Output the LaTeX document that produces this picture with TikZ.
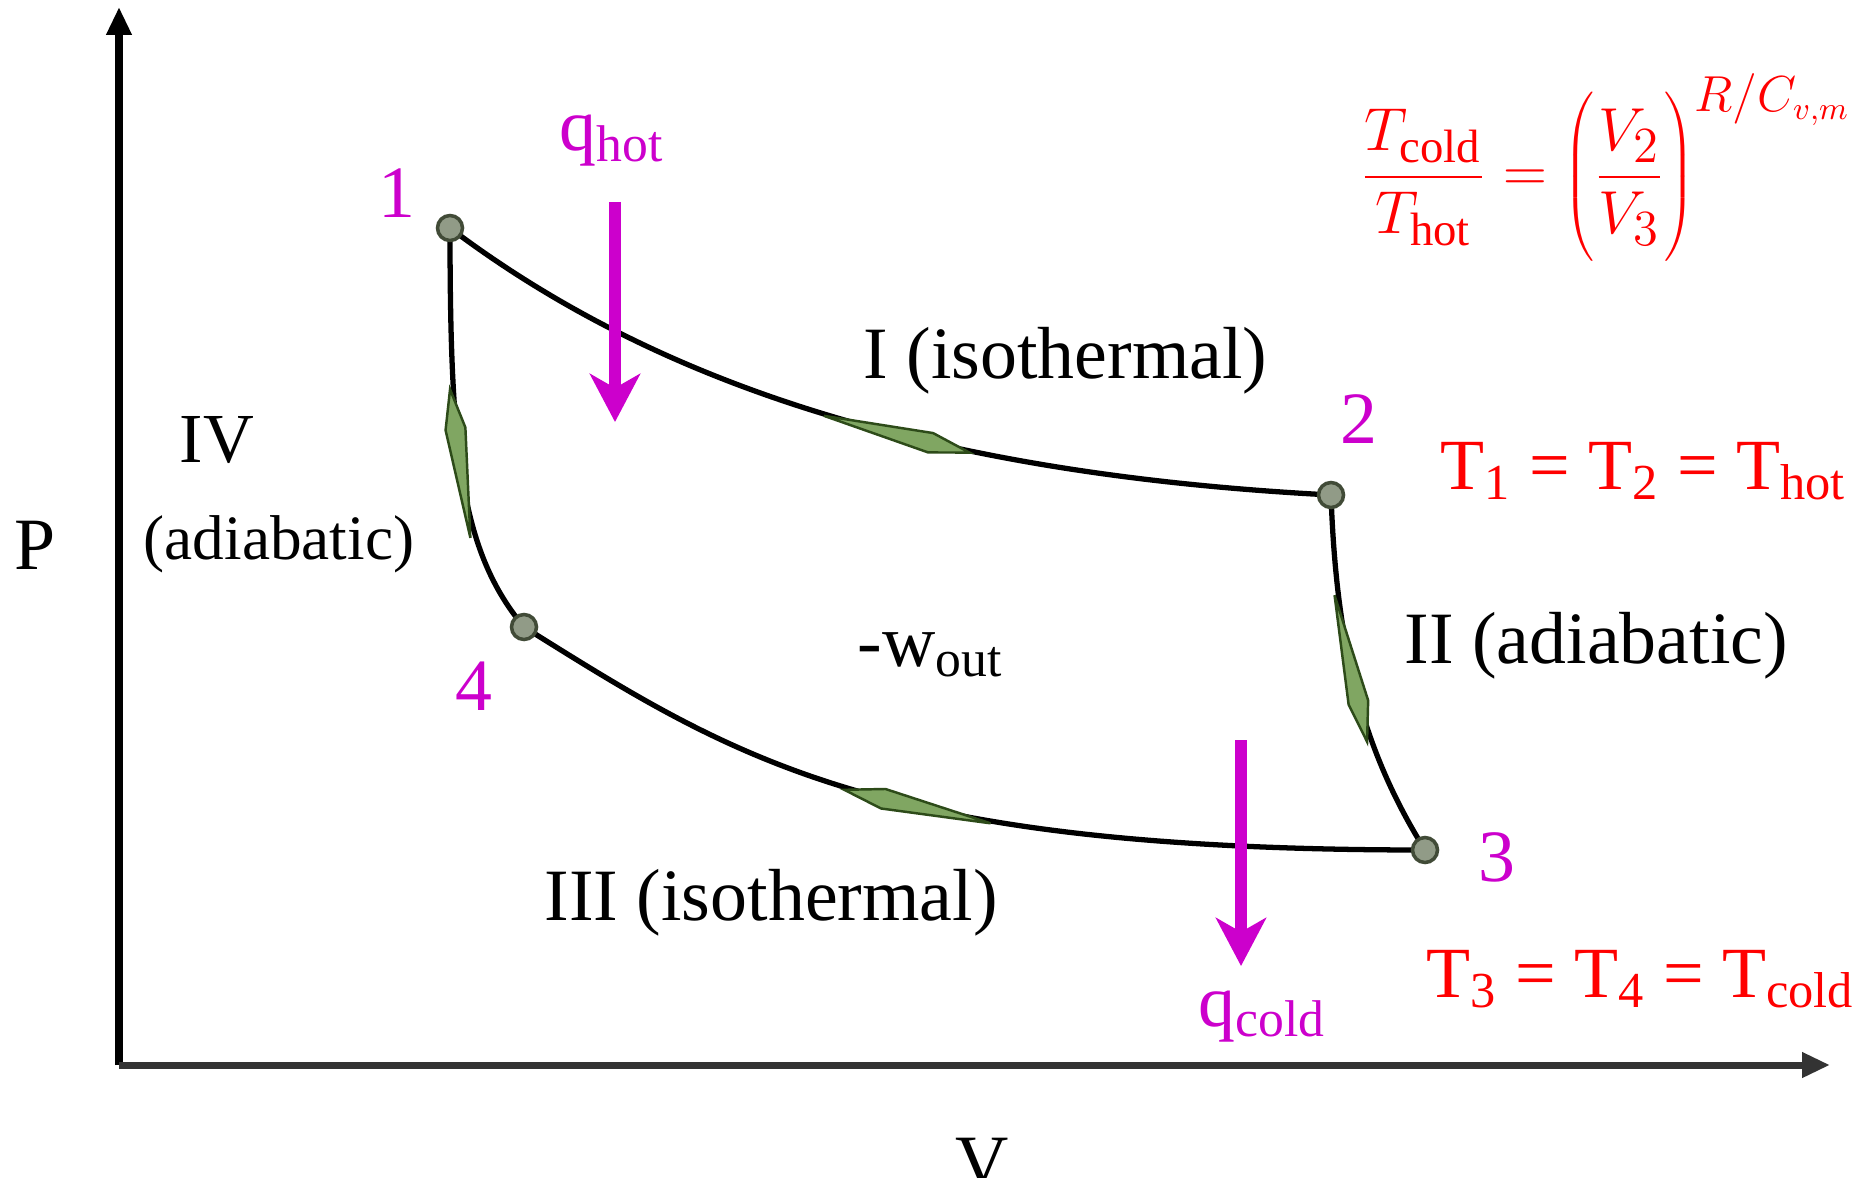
\documentclass[tikz,border=0pt]{standalone}
\usepackage{fontspec}
\setmainfont{Liberation Serif}
\usepackage{tikz}
\usetikzlibrary{arrows.meta, decorations.markings}
\definecolor{heatmag}{RGB}{204, 0, 204}
\definecolor{leafgreen}{RGB}{128, 166, 98}
\definecolor{leafdark}{RGB}{45, 75, 25}
\definecolor{dotfill}{RGB}{145, 155, 135}
\definecolor{dotdark}{RGB}{65, 75, 55}

\begin{document}
\begin{tikzpicture}[
  lbl/.style={font=\fontsize{21}{25}\selectfont, inner sep=0pt, anchor=base west},
  ptnum/.style={lbl, anchor=base, text=heatmag},
  redlbl/.style={lbl, text=red, font=\fontsize{20.5}{24}\selectfont},
  axisline/.style={line width=2pt, -{Triangle[length=0.28cm, width=0.24cm]}},
  cycleline/.style={line width=1.5pt},
  statedot/.style={circle, draw=dotdark, fill=dotfill, line width=1pt, minimum size=0.25cm, inner sep=0pt},
  heatarrow/.style={heatmag, line width=3.4pt, -{Stealth[length=0.48cm, width=0.5cm, inset=0.14cm]}},
  flowmark/.style={postaction={decorate, decoration={markings,
    mark=at position #1 with {\filldraw[draw=leafdark, fill=leafgreen, line width=0.7pt]
      (-0.75,0) -- (0.35,0.1) -- (0.75,0) -- (0.35,-0.1) -- cycle;}}}}
]
\useasboundingbox (0,0) rectangle (18.66,11.77);

% Axes
\coordinate (origin) at (1.19,1.12);
\coordinate (ytip) at (1.19,11.70);
\coordinate (xtip) at (18.30,1.12);
\draw[axisline] (origin) -- (ytip);
\draw[axisline, black!80] (origin) -- (xtip);
\node[lbl] (plbl) at (0.14,6.08) {P};
\node[lbl] (vlbl) at (9.55,-0.09) {V};

% State points of the cycle
\coordinate (c1) at (4.50,9.49);
\coordinate (c2) at (13.31,6.82);
\coordinate (c3) at (14.25,3.27);
\coordinate (c4) at (5.24,5.50);

% The four strokes
\draw[cycleline, flowmark=0.53] (c1) .. controls +(-37:2.6) and +(177:4) .. (c2);
\draw[cycleline, flowmark=0.47] (c2) .. controls +(-88:1.5) and +(122:1.2) .. (c3);
\draw[cycleline, flowmark=0.54] (c3) .. controls +(180:5.5) and +(-32:2.5) .. (c4);
\draw[cycleline, flowmark=0.43] (c4) .. controls +(130:1.0) and +(-90:2.2) .. (c1);

\foreach \i in {1,...,4}
  \node[statedot] (s\i) at (c\i) {};

% Point numbers
\node[ptnum] (n1) at (3.97,9.59) {1};
\node[ptnum] (n2) at (13.59,7.34) {2};
\node[ptnum] (n3) at (14.97,2.96) {3};
\node[ptnum] (n4) at (4.74,4.67) {4};

% Stroke labels
\node[lbl] (iso1) at (8.63,7.99) {I (isothermal)};
\node[lbl] (adi2) at (14.04,5.14) {II (adiabatic)};
\node[lbl] (iso3) at (5.44,2.57) {III (isothermal)};
\node[lbl, font=\fontsize{20}{24}\selectfont] (adi4a) at (1.79,7.15) {IV};
\node[lbl, font=\fontsize{18}{22}\selectfont] (adi4b) at (1.43,6.18) {(adiabatic)};
\node[lbl] (work) at (8.57,5.11) {-w\textsubscript{out}};

% Heat flows
\coordinate (qhtop) at (6.15,9.75);
\coordinate (qhtip) at (6.15,7.55);
\coordinate (qctop) at (12.41,4.37);
\coordinate (qctip) at (12.41,2.11);
\draw[heatarrow] (qhtop) -- (qhtip);
\draw[heatarrow] (qctop) -- (qctip);
\node[lbl, text=heatmag] (qhot) at (5.59,10.26) {q\textsubscript{hot}};
\node[lbl, text=heatmag] (qcold) at (11.98,1.51) {q\textsubscript{cold}};

% Temperatures
\node[redlbl, font=\fontsize{19}{23}\selectfont] (ratio) at (13.60,9.85)
  {$\displaystyle\frac{T_{\mathrm{cold}}}{T_{\mathrm{hot}}}=\left(\rule[-0.66cm]{0pt}{1.66cm}\frac{V_2}{V_3}\right)^{R/C_{v,m}}$};
\node[redlbl] (thot) at (14.40,6.88) {T\textsubscript{1} = T\textsubscript{2} = T\textsubscript{hot}};
\node[redlbl] (tcold) at (14.26,1.80) {T\textsubscript{3} = T\textsubscript{4} = T\textsubscript{cold}};

\end{tikzpicture}
\end{document}
